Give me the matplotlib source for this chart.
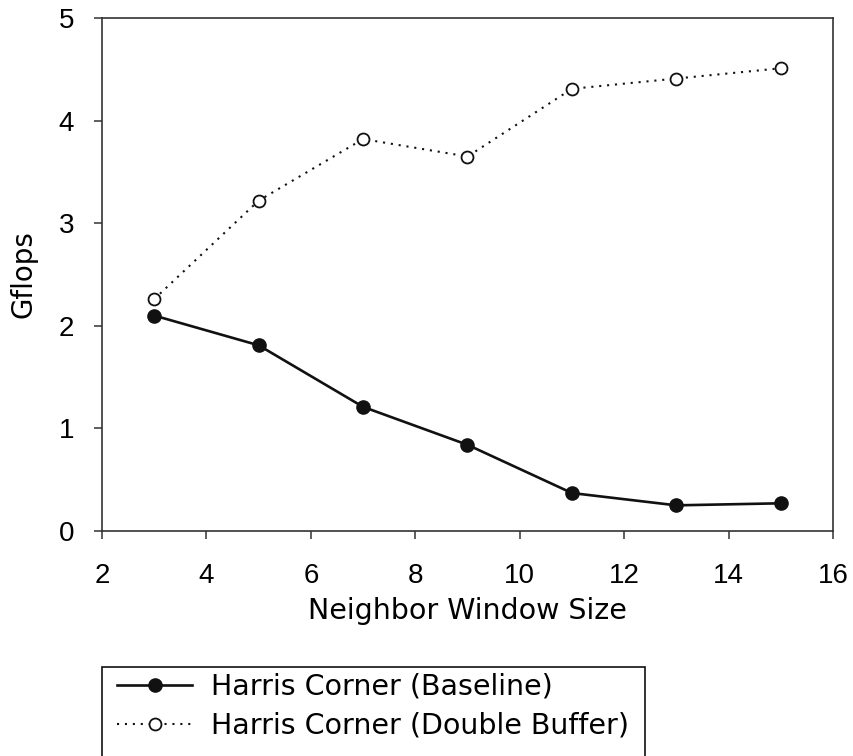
import matplotlib
matplotlib.use("Agg")
import matplotlib.pyplot as plt
from matplotlib.patches import Rectangle

plt.rcParams['font.family'] = ['Liberation Sans', 'DejaVu Sans']
WIDE = ['DejaVu Sans']

window_size = [3, 5, 7, 9, 11, 13, 15]
baseline = [2.10, 1.81, 1.21, 0.84, 0.37, 0.25, 0.27]
double_buffer = [2.26, 3.22, 3.82, 3.65, 4.31, 4.41, 4.51]
labels = ["Harris Corner (Baseline)", "Harris Corner (Double Buffer)"]
xticks = [2, 4, 6, 8, 10, 12, 14, 16]
yticks = [0, 1, 2, 3, 4, 5]

W, H = 854, 756
fig = plt.figure(figsize=(W / 100, H / 100), dpi=100)
ax = fig.add_axes([102 / W, 1 - 531 / H, (833 - 102) / W, (531 - 18) / H])

spine_col = '#333333'
ax.plot(window_size, baseline, '-', color='#111111', lw=1.9,
        marker='o', ms=9.5, mfc='#111111', mec='#111111', label=labels[0])
ax.plot(window_size, double_buffer, color='#111111', lw=1.5,
        linestyle=(0, (1, 2.8)), marker='o', ms=8.6, mfc='white',
        mec='#111111', mew=1.3, label=labels[1])

ax.set_xlim(2, 16)
ax.set_ylim(0, 5)
ax.set_xticks(xticks)
ax.set_yticks(yticks)
for s in ax.spines.values():
    s.set_color(spine_col)
    s.set_linewidth(1.2)
ax.tick_params(direction='out', length=6, width=1.1, color=spine_col,
               labelsize=20)
ax.tick_params(axis='x', pad=17)
ax.tick_params(axis='y', pad=14)

ax.set_xlabel("Neighbor Window Size", fontsize=20.5, family=WIDE, labelpad=6)
ax.set_ylabel("Gflops", fontsize=20, family=WIDE, labelpad=15.5)

# legend frame drawn in figure pixels, open at the bottom edge
fig.patches.append(Rectangle((102 / W, -0.05), (645 - 102) / W, (H - 667) / H + 0.05,
                             transform=fig.transFigure, fill=False,
                             edgecolor='#111111', lw=1.2, clip_on=False))
leg = fig.legend(loc='upper left', bbox_to_anchor=(117 / W, 1 - 673 / H),
                 frameon=False, prop={'family': WIDE, 'size': 20.5},
                 borderpad=0, borderaxespad=0,
                 handlelength=2.65, handletextpad=0.65, labelspacing=0.38)

fig.savefig("out.png", dpi=100)
